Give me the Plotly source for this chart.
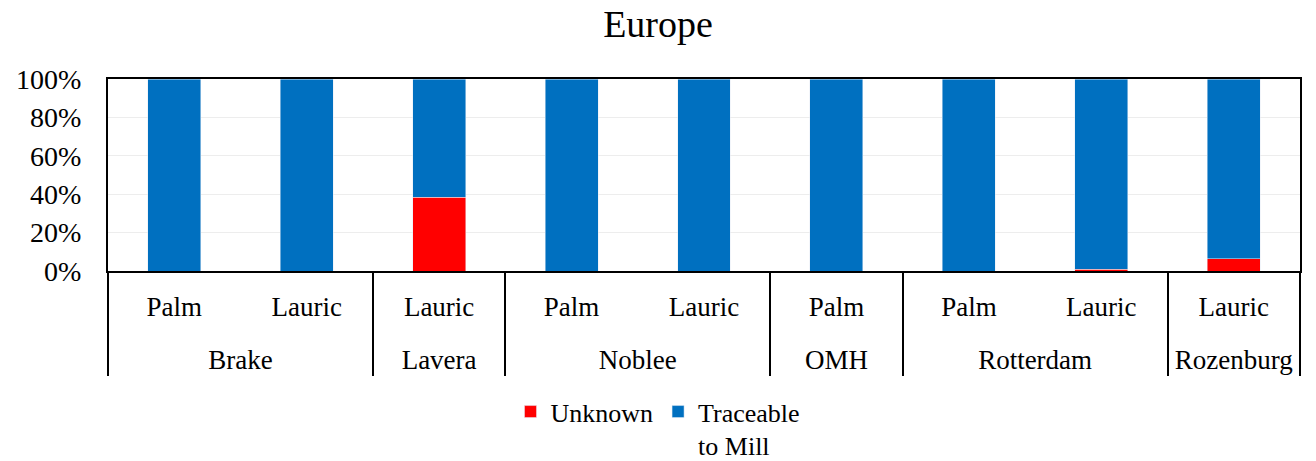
import plotly.graph_objects as go

sites = ["Brake", "Brake", "Lavera", "Noblee", "Noblee", "OMH", "Rotterdam", "Rotterdam", "Rozenburg"]
oils = ["Palm", "Lauric", "Lauric", "Palm", "Lauric", "Palm", "Palm", "Lauric", "Lauric"]
unknown = [0, 0, 38.3, 0, 0, 0, 0, 1, 6.3]
traceable = [100, 100, 61.7, 100, 100, 100, 100, 99, 93.7]

FONT = "Liberation Serif"

# invisible tall spacer so the second label row sits lower
pad = "<span style='font-size:56px'>\u00a0</span>"
oil_labels = [pad + o + pad for o in oils]

fig = go.Figure()
fig.add_trace(go.Bar(x=[sites, oil_labels], y=unknown, name="Unknown", marker_color="#FF0000"))
fig.add_trace(go.Bar(x=[sites, oil_labels], y=traceable, name="Traceable<br>to Mill", marker_color="#0070C0"))

fig.update_layout(
    barmode="stack",
    bargap=0.6,
    width=1316, height=461,
    margin=dict(l=108, r=16, t=79, b=190),
    paper_bgcolor="white", plot_bgcolor="white",
    font=dict(family=FONT, size=27, color="black"),
    title=dict(text="Europe", x=0.5, xanchor="center", y=0.948, yanchor="middle",
               font=dict(family=FONT, size=38, color="black")),
    legend=dict(orientation="h", xref="container", yref="container",
                x=0.5, xanchor="center", y=0.158, yanchor="top",
                font=dict(family=FONT, size=26), traceorder="normal", valign="top"),
)
fig.update_yaxes(range=[0, 100], tickvals=[0, 20, 40, 60, 80, 100],
                 ticktext=["0%", "20%", "40%", "60%", "80%", "100%"],
                 showgrid=True, gridcolor="#EDEDED", gridwidth=1,
                 showline=True, linecolor="black", linewidth=2, mirror=True,
                 ticks="outside", ticklen=19, tickcolor="rgba(0,0,0,0)",
                 tickfont=dict(family=FONT, size=28),
                 zeroline=False, automargin=False)
fig.update_xaxes(showline=True, linecolor="black", linewidth=2, mirror=True,
                 showdividers=True, dividercolor="black", dividerwidth=2,
                 ticks="", ticklabelstandoff=11,
                 tickfont=dict(family=FONT, size=27), automargin=False)

fig.write_html("out.html", config={"displayModeBar": False},
               post_script="document.body.style.margin='0';")
